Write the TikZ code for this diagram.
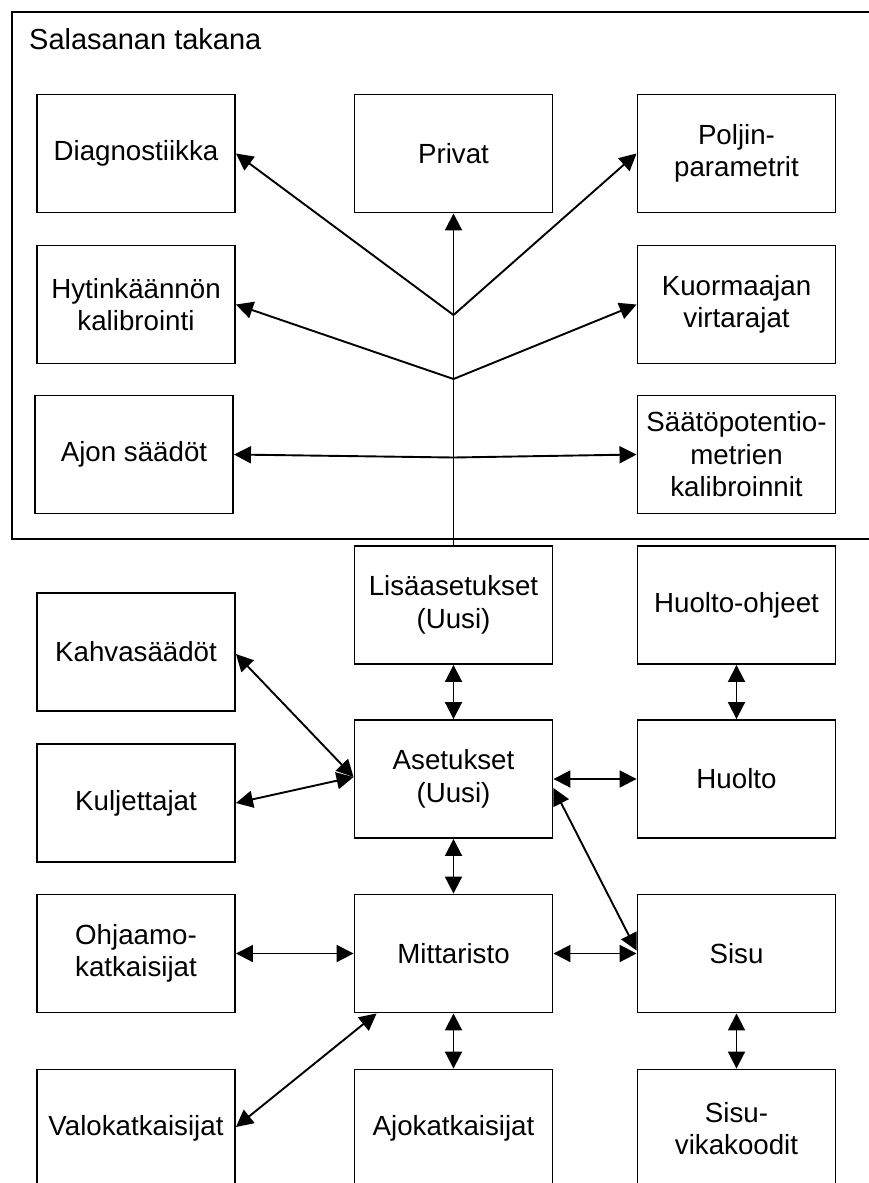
\documentclass[tikz,border=0pt]{standalone}
\usepackage{fontspec}
\setmainfont{Liberation Sans}
\usetikzlibrary{arrows.meta}
\begin{document}
\begin{tikzpicture}[x=1pt,y=-1pt,
  box/.style={draw, line width=1.9pt, minimum width=198pt, minimum height=118pt,
    inner sep=2pt, align=center, font=\fontsize{27.7pt}{32.5pt}\selectfont},
  conn/.style={line width=1.9pt},
  oneway/.style={conn, -{Triangle[length=17pt,width=17pt]}},
  twoway/.style={conn, {Triangle[length=17pt,width=17pt]}-{Triangle[length=17pt,width=17pt]}}]
\useasboundingbox (0,0) rectangle (869,1183);
% frame
\node[draw, line width=1.9pt, minimum width=874pt, minimum height=527pt, inner sep=0pt, anchor=north west] (frame) at (11,11) {};
\node[anchor=base west, inner sep=0pt, font=\fontsize{29pt}{34pt}\selectfont] (title) at (29,49.3) {Salasanan takana};
% upper boxes
\node[box] (diag) at (136,153.5) {Diagnostiikka};
\node[box] (privat) at (453.5,153.5) {Privat};
\node[box] (poljin) at (736.5,153.5) {Poljin-\\parametrit};
\node[box] (hytin) at (136,304.5) {Hytinkäännön\\kalibrointi};
\node[box] (kuorma) at (736.5,304.5) {Kuormaajan\\virtarajat};
\node[box] (ajon) at (134,454.5) {Ajon säädöt};
\node[box] (saato) at (736.5,454.5) {Säätöpotentio-\\metrien\\kalibroinnit};
% lower boxes
\node[box] (lisa) at (453.5,605) {Lisäasetukset\\(Uusi)};
\node[box] (huoltoohj) at (736.5,605) {Huolto-ohjeet};
\node[box] (kahva) at (136,652) {Kahvasäädöt};
\node[box] (aset) at (453.5,779) {Asetukset\\(Uusi)};
\node[box] (huolto) at (736.5,779) {Huolto};
\node[box] (kulj) at (136,803) {Kuljettajat};
\node[box] (ohj) at (136,953.5) {Ohjaamo-\\katkaisijat};
\node[box] (mitt) at (453.5,953.5) {Mittaristo};
\node[box] (sisu) at (736.5,953.5) {Sisu};
\node[box] (valo) at (136,1128.5) {Valokatkaisijat};
\node[box] (ajok) at (453.5,1128.5) {Ajokatkaisijat};
\node[box] (sisuvika) at (736.5,1128.5) {Sisu-\\vikakoodit};
% tree
\coordinate (b1) at (453.5,315);
\coordinate (b2) at (453.5,379);
\coordinate (b3) at (453.5,457.5);
\draw[oneway] (lisa.north) -- (privat.south);
\draw[oneway] (b1) -- (diag.east);
\draw[oneway] (b1) -- (poljin.west);
\draw[oneway] (b2) -- (hytin.east);
\draw[oneway] (b2) -- (kuorma.west);
\draw[oneway] (b3) -- (ajon.east);
\draw[oneway] (b3) -- (saato.west);
% lower connectors
\draw[twoway] (lisa.south) -- (aset.north);
\draw[twoway] (huoltoohj.south) -- (huolto.north);
\draw[twoway] ([yshift=-2pt]kahva.east) -- ([yshift=2pt]aset.west);
\draw[twoway] (kulj.east) -- ([yshift=2pt]aset.west);
\draw[twoway] (aset.east) -- (huolto.west);
\draw[twoway] ([yshift=-9pt]aset.east) -- ([yshift=3pt]sisu.west);
\draw[twoway] (aset.south) -- (mitt.north);
\draw[twoway] (ohj.east) -- (mitt.west);
\draw[twoway] (mitt.east) -- (sisu.west);
\draw[twoway] ([xshift=23pt]mitt.south west) -- ([yshift=1.5pt]valo.east);
\draw[twoway] (mitt.south) -- (ajok.north);
\draw[twoway] (sisu.south) -- (sisuvika.north);
\end{tikzpicture}
\end{document}
